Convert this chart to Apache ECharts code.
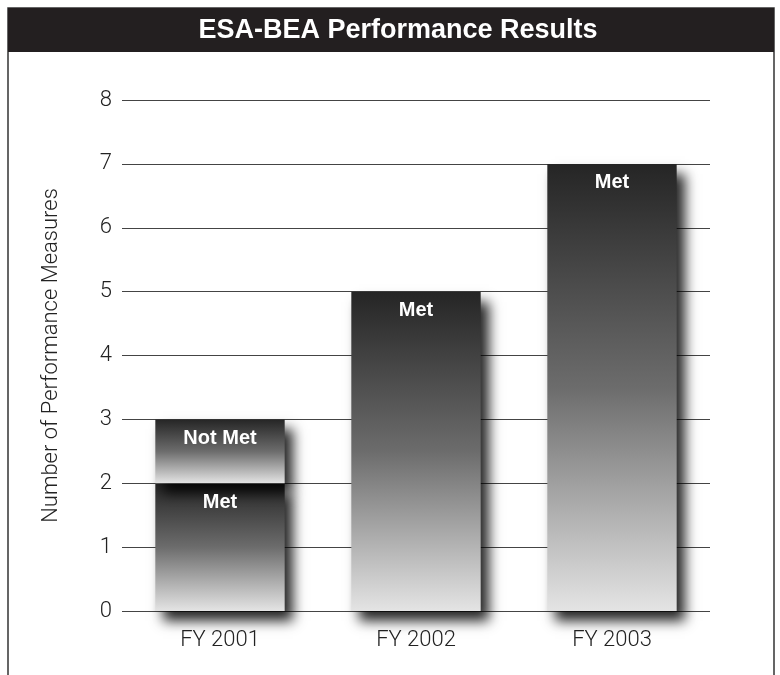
<!DOCTYPE html>
<html>
<head>
<meta charset="utf-8">
<script src="https://cdn.jsdelivr.net/npm/echarts@6/dist/echarts.min.js"></script>
<style>
  html, body { margin: 0; padding: 0; background: #fff; }
  #chart { width: 780px; height: 675px; }
</style>
</head>
<body>
<div id="chart"></div>
<script>
const categories = ['FY 2001', 'FY 2002', 'FY 2003']
const metValues = [2, 5, 7]
const notMetValues = [1, '-', '-']
const yTicks = [0, 1, 2, 3, 4, 5, 6, 7, 8]

const barFill = new echarts.graphic.LinearGradient(0, 0, 0, 1, [
  { offset: 0, color: '#252525' },
  { offset: 0.5, color: '#6c6c6c' },
  { offset: 1, color: '#e4e4e4' }
])

const barStyle = {
  color: barFill,
  shadowColor: 'rgba(0,0,0,0.85)',
  shadowBlur: 12,
  shadowOffsetX: 8,
  shadowOffsetY: 10
}

const labelStyle = {
  show: true,
  position: 'insideTop',
  distance: 9,
  color: '#fff',
  fontFamily: 'Liberation Sans, Arial, sans-serif',
  fontWeight: 'bold',
  fontSize: 20
}

const axisFont = {
  color: '#222',
  fontSize: 22,
  fontFamily: 'Roboto, sans-serif',
  fontWeight: 300
}

let chart = echarts.init(document.getElementById('chart'))
chart.setOption({
  animation: false,
  graphic: [
    {
      type: 'rect',
      shape: { x: 8, y: 8, width: 766, height: 700 },
      style: { fill: 'none', stroke: '#333', lineWidth: 1.5 },
      z: 0
    },
    {
      type: 'rect',
      shape: { x: 8, y: 8, width: 766, height: 44 },
      style: { fill: '#231f20' },
      z: 1
    },
    {
      type: 'text',
      x: 398,
      y: 31,
      style: {
        text: 'ESA-BEA Performance Results',
        fill: '#fff',
        font: 'bold 27px "Liberation Sans", Arial, sans-serif',
        align: 'center',
        verticalAlign: 'middle'
      },
      z: 2
    }
  ],
  grid: {
    left: 122,
    right: 70,
    top: 100,
    bottom: 64
  },
  xAxis: {
    type: 'category',
    data: categories,
    axisLine: { show: false },
    axisTick: { show: false },
    axisLabel: Object.assign({ margin: 18 }, axisFont)
  },
  yAxis: {
    type: 'value',
    min: 0,
    max: yTicks[yTicks.length - 1],
    interval: 1,
    name: 'Number of Performance Measures',
    nameLocation: 'middle',
    nameGap: 60,
    nameTextStyle: axisFont,
    axisLine: { show: false },
    axisTick: { show: false },
    axisLabel: Object.assign({ margin: 10 }, axisFont),
    splitLine: { lineStyle: { color: '#444', width: 1 } }
  },
  series: [
    {
      name: 'Met',
      type: 'bar',
      stack: 'total',
      data: metValues,
      barWidth: '66%',
      itemStyle: barStyle,
      label: Object.assign({}, labelStyle, { formatter: 'Met' }),
      z: 3
    },
    {
      name: 'Not Met',
      type: 'bar',
      stack: 'total',
      data: notMetValues,
      barWidth: '66%',
      itemStyle: barStyle,
      label: Object.assign({}, labelStyle, { formatter: 'Not Met' }),
      z: 3
    }
  ]
})
</script>
</body>
</html>
